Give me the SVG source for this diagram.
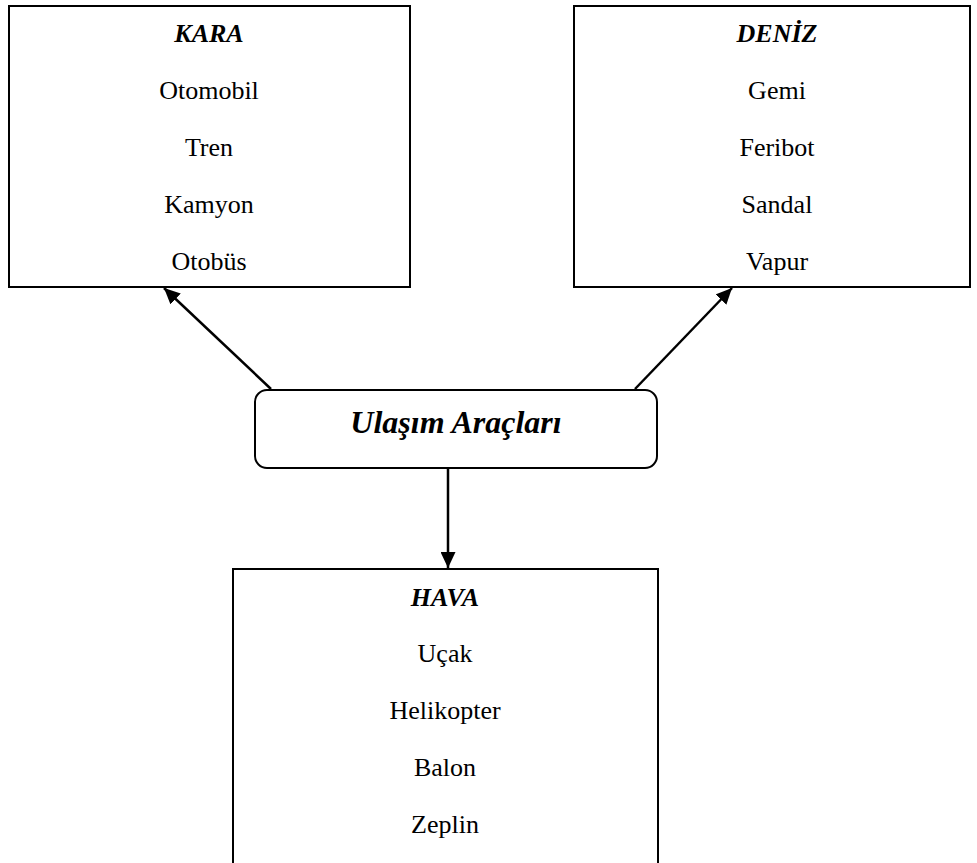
<svg xmlns="http://www.w3.org/2000/svg" width="977" height="863" viewBox="0 0 977 863">
<defs>
<marker id="arr" markerUnits="userSpaceOnUse" markerWidth="17" markerHeight="15" refX="16" refY="7.5" orient="auto">
<path d="M0,0 L16,7.5 L0,15 z" fill="#000"/>
</marker>
</defs>
<style>
.box{fill:#fff;stroke:#000;stroke-width:2}
.t{font-family:"Liberation Serif","Times New Roman",serif;font-size:26px;text-anchor:middle;fill:#000}
.h{font-weight:bold;font-style:italic}
.c{font-family:"Liberation Serif","Times New Roman",serif;font-size:32px;font-weight:bold;font-style:italic;text-anchor:middle;fill:#000}
.ln{stroke:#000;stroke-width:2.5;fill:none}
</style>
<rect width="977" height="863" fill="#fff"/>
<g id="kara">
<rect class="box" x="9" y="6" width="401" height="281"/>
<text class="t h" x="209" y="42">KARA</text>
<text class="t" x="209" y="99">Otomobil</text>
<text class="t" x="209" y="156">Tren</text>
<text class="t" x="209" y="213">Kamyon</text>
<text class="t" x="209" y="270">Otobüs</text>
</g>
<g id="deniz">
<rect class="box" x="574" y="6" width="396" height="281"/>
<text class="t h" x="777" y="42">DENİZ</text>
<text class="t" x="777" y="99">Gemi</text>
<text class="t" x="777" y="156">Feribot</text>
<text class="t" x="777" y="213">Sandal</text>
<text class="t" x="777" y="270">Vapur</text>
</g>
<g id="hava">
<rect class="box" x="233" y="569" width="425" height="310"/>
<text class="t h" x="445" y="606">HAVA</text>
<text class="t" x="445" y="662">Uçak</text>
<text class="t" x="445" y="719">Helikopter</text>
<text class="t" x="445" y="776">Balon</text>
<text class="t" x="445" y="833">Zeplin</text>
</g>
<g id="ulasim">
<rect class="box" x="255" y="390" width="402" height="78" rx="12" ry="12"/>
<text class="c" x="456" y="433">Ulaşım Araçları</text>
</g>
<g id="connectors">
<line class="ln" x1="271" y1="389" x2="164" y2="288" marker-end="url(#arr)"/>
<line class="ln" x1="635" y1="389" x2="732" y2="288" marker-end="url(#arr)"/>
<line class="ln" x1="448" y1="469" x2="448" y2="568" marker-end="url(#arr)"/>
</g>
</svg>
